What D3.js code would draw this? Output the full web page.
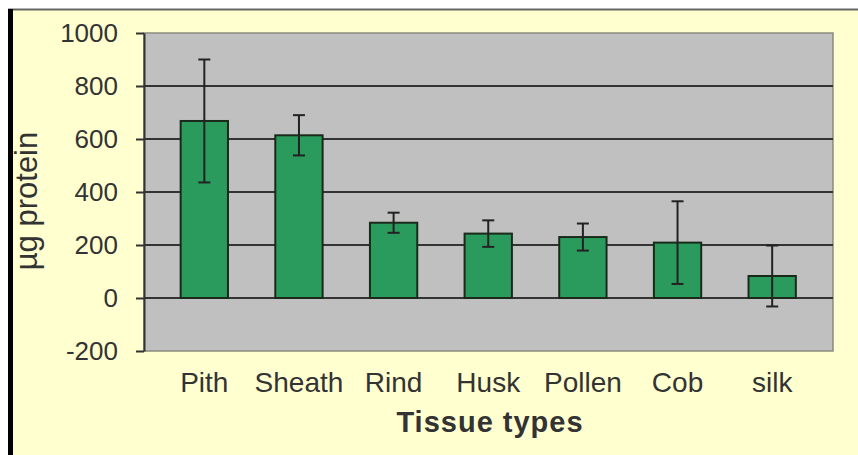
<!DOCTYPE html>
<html>
<head>
<meta charset="utf-8">
<script src="https://cdn.jsdelivr.net/npm/d3@7"></script>
<style>
  body { margin: 0; background: #fff; }
  text { font-family: "Liberation Sans", Arial, sans-serif; fill: #333; }
</style>
</head>
<body>
<div id="chart"></div>
<script>
// ----- Data -----
const categories = ["Pith", "Sheath", "Rind", "Husk", "Pollen", "Cob", "silk"];
const means = [668, 614, 284, 243, 230, 209, 83];
const errors = [232, 76, 38, 50, 51, 156, 115];
const yTicks = [-200, 0, 200, 400, 600, 800, 1000];

const data = categories.map((c, i) => ({ name: c, value: means[i], err: errors[i] }));

// ----- Config -----
const width = 858;
const height = 455;
const plot = { left: 144, right: 833, top: 33, bottom: 351 };

const svg = d3.select("#chart")
  .append("svg")
  .attr("width", width)
  .attr("height", height);

// page frame: yellow panel, grey top rule, black left bar
svg.append("rect")
  .attr("x", 13).attr("y", 10)
  .attr("width", width - 13).attr("height", height - 10)
  .attr("fill", "#ffffd0");
svg.append("line")
  .attr("x1", 8).attr("x2", width)
  .attr("y1", 9.5).attr("y2", 9.5)
  .attr("stroke", "#666").attr("stroke-width", 2);
svg.append("rect")
  .attr("x", 8).attr("y", 9)
  .attr("width", 5).attr("height", height - 9)
  .attr("fill", "#000");

// ----- Scales -----
const x = d3.scaleBand()
  .domain(categories)
  .range([157, 819.5])
  .paddingInner(0.5)
  .paddingOuter(0.25);

const y = d3.scaleLinear()
  .domain([-200, 1000])
  .range([plot.bottom, plot.top]);

// plot background
svg.append("rect")
  .attr("x", plot.left).attr("y", plot.top)
  .attr("width", plot.right - plot.left)
  .attr("height", plot.bottom - plot.top)
  .attr("fill", "#c0c0c0")
  .attr("stroke", "#8a8a80")
  .attr("stroke-width", 1.5);

// gridlines (inner ticks only)
svg.append("g")
  .selectAll("line")
  .data(yTicks.filter(t => t > -200 && t < 1000))
  .join("line")
  .attr("x1", plot.left).attr("x2", plot.right)
  .attr("y1", d => y(d)).attr("y2", d => y(d))
  .attr("stroke", "#333")
  .attr("stroke-width", 2);

// ----- Y axis -----
const yAxis = svg.append("g")
  .attr("transform", `translate(${plot.left},0)`)
  .call(d3.axisLeft(y)
    .tickValues(yTicks)
    .tickFormat(d => String(d))
    .tickSize(8)
    .tickPadding(18)
    .tickSizeOuter(0));
yAxis.select(".domain").attr("stroke", "#333").attr("stroke-width", 2);
yAxis.selectAll(".tick line").attr("stroke", "#333").attr("stroke-width", 2);
yAxis.selectAll(".tick text")
  .attr("fill", "#444")
  .style("font-size", "26px");

// ----- Bars -----
svg.append("g")
  .selectAll("rect")
  .data(data)
  .join("rect")
  .attr("x", d => x(d.name))
  .attr("width", x.bandwidth())
  .attr("y", d => y(d.value))
  .attr("height", d => y(0) - y(d.value))
  .attr("fill", "#2b9b5d")
  .attr("stroke", "#1a2a1a")
  .attr("stroke-width", 2);

// ----- Error bars -----
const eb = svg.append("g")
  .selectAll("g")
  .data(data)
  .join("g")
  .attr("transform", d => `translate(${x(d.name) + x.bandwidth() / 2},0)`)
  .attr("stroke", "#222")
  .attr("stroke-width", 2);

eb.append("line")
  .attr("y1", d => y(d.value + d.err))
  .attr("y2", d => y(d.value - d.err));
eb.append("line")
  .attr("x1", -6).attr("x2", 6)
  .attr("y1", d => y(d.value + d.err)).attr("y2", d => y(d.value + d.err));
eb.append("line")
  .attr("x1", -6).attr("x2", 6)
  .attr("y1", d => y(d.value - d.err)).attr("y2", d => y(d.value - d.err));

// ----- Category labels -----
svg.append("g")
  .selectAll("text")
  .data(categories)
  .join("text")
  .attr("x", d => x(d) + x.bandwidth() / 2)
  .attr("y", 392)
  .attr("text-anchor", "middle")
  .attr("fill", "#444")
  .style("font-size", "28px")
  .text(d => d);

// ----- Axis titles -----
svg.append("text")
  .attr("x", 490)
  .attr("y", 432)
  .attr("text-anchor", "middle")
  .style("font-size", "29px")
  .style("font-weight", "bold")
  .style("letter-spacing", "1px")
  .attr("fill", "#111")
  .text("Tissue types");

svg.append("text")
  .attr("transform", "translate(37,201) rotate(-90)")
  .attr("text-anchor", "middle")
  .style("font-size", "31px")
  .attr("fill", "#222")
  .text("µg protein");
</script>
</body>
</html>
